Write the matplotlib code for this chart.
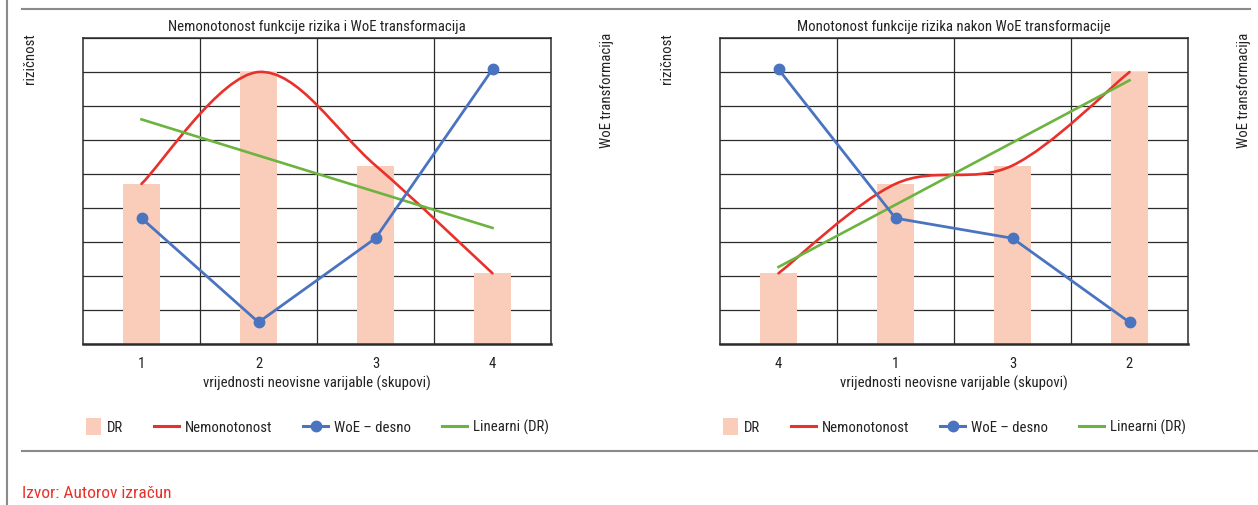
import numpy as np
import matplotlib
matplotlib.use('Agg')
import matplotlib.pyplot as plt
from matplotlib.path import Path
from matplotlib.patches import PathPatch, Patch, Rectangle
from matplotlib.lines import Line2D
from matplotlib.legend_handler import HandlerPatch

plt.rcParams['font.family'] = ['Roboto Condensed', 'Liberation Sans Narrow',
                               'Roboto', 'DejaVu Sans']

# groups of the independent variable, in the order they are shown
groups_raw = ['1', '2', '3', '4']
groups_woe = ['4', '1', '3', '2']
# default rate per group and WoE value per group (right axis)
dr = {'1': 4.71, '2': 8.0, '3': 5.25, '4': 2.08}
woe = {'1': 3.70, '2': 0.64, '3': 3.11, '4': 8.08}

titles = ['Nemonotonost funkcije rizika i WoE transformacija',
          'Monotonost funkcije rizika nakon WoE transformacije']
legend_labels = ['DR', 'Nemonotonost', 'WoE – desno', 'Linearni (DR)']

c_bar = '#F9CDB9'
c_red = '#E8312A'
c_blue = '#4A74C0'
c_green = '#6DB33F'
c_grid = '#2b2b2b'
c_text = '#222222'
fs = 10.6

W, H = 1258, 505
fig = plt.figure(figsize=(W / 100, H / 100), dpi=100)


def smooth_path(x, y):
    # Catmull-Rom style bezier, like a spreadsheet "smoothed line"
    p = np.column_stack([x, y]).astype(float)
    ext = np.vstack([p[0], p, p[-1]])
    verts = [p[0]]
    codes = [Path.MOVETO]
    for i in range(len(p) - 1):
        p0, p1, p2, p3 = ext[i], ext[i + 1], ext[i + 2], ext[i + 3]
        verts += [p1 + (p2 - p0) / 6, p2 - (p3 - p1) / 6, p2]
        codes += [Path.CURVE4] * 3
    return Path(verts, codes)


def square_patch(legend, orig_handle, xdescent, ydescent, width, height, fontsize):
    # small square swatch, pushed to the right end of the handle box
    side = fontsize * 1.1
    pw = side * 0.95
    return Rectangle((-xdescent + width - pw, -ydescent + (height - side) / 2), pw, side)


def panel(left_px, order, title):
    ax = fig.add_axes([left_px / W, 1 - 344 / H, 468 / W, 306 / H])
    x = np.arange(1, len(order) + 1)
    y = np.array([dr[g] for g in order])
    w = np.array([woe[g] for g in order])

    ax.bar(x, y, width=0.31, color=c_bar, zorder=2)
    ax.add_patch(PathPatch(smooth_path(x, y), fill=False, edgecolor=c_red,
                           lw=1.9, zorder=3, capstyle='round'))
    k, b = np.polyfit(x, y, 1)
    ax.plot(x[[0, -1]], k * x[[0, -1]] + b, color=c_green, lw=1.9, zorder=4)

    ax.set_xlim(0.5, len(order) + 0.5)
    ax.set_ylim(0, 9)
    ax.set_yticks(range(10))
    ax.set_yticklabels([])
    ax.set_xticks(x)
    ax.set_xticklabels(order, fontsize=fs, color=c_text)
    ax.set_xticks(x[:-1] + 0.5, minor=True)
    ax.tick_params(which='both', length=0)
    ax.tick_params(axis='x', pad=9)
    ax.grid(axis='y', which='major', color=c_grid, lw=0.9)
    ax.grid(axis='x', which='minor', color=c_grid, lw=0.9)
    ax.set_axisbelow(True)
    for s in ax.spines.values():
        s.set_color(c_grid)
        s.set_linewidth(1.1)
    ax.spines['bottom'].set_linewidth(1.8)
    ax.set_xlabel('vrijednosti neovisne varijable (skupovi)', fontsize=fs,
                  color=c_text, labelpad=4)
    ax.set_title(title, fontsize=fs, color=c_text, pad=5)

    ax2 = ax.twinx()
    ax2.plot(x, w, color=c_blue, lw=2, marker='o', ms=7.5, zorder=5)
    ax2.set_ylim(0, 9)
    ax2.set_yticks([])
    for s in ax2.spines.values():
        s.set_visible(False)

    handles = [Patch(facecolor=c_bar, edgecolor='none'),
               Line2D([], [], color=c_red, lw=2.2),
               Line2D([], [], color=c_blue, lw=2.2, marker='o', ms=7.5),
               Line2D([], [], color=c_green, lw=2.2)]
    ax.legend(handles, legend_labels, loc='center', bbox_to_anchor=(0.49, -0.272),
              ncol=4, frameon=False, fontsize=fs, handlelength=1.7,
              handleheight=1.1, handletextpad=0.4, columnspacing=2.1,
              labelcolor=c_text,
              handler_map={Patch: HandlerPatch(patch_func=square_patch)})

    fig.text((left_px - 53) / W, 1 - 33 / H, 'rizičnost', rotation=90,
             ha='center', va='top', fontsize=fs, color=c_text)
    fig.text((left_px + 524) / W, 1 - 33 / H, 'WoE transformacija', rotation=90,
             ha='center', va='top', fontsize=fs, color=c_text)


panel(83, groups_raw, titles[0])
panel(720, groups_woe, titles[1])

# page frame lines
frame = '#8a8a8a'
fig.add_artist(Line2D([7 / W, 7 / W], [0, 1], color=frame, lw=1.5))
fig.add_artist(Line2D([22 / W, 1250 / W], [1 - 9 / H, 1 - 9 / H], color=frame, lw=1.5))
fig.add_artist(Line2D([22 / W, 1], [1 - 451 / H, 1 - 451 / H], color=frame, lw=1.5))

fig.text(22 / W, 1 - 493 / H, 'Izvor: Autorov izračun', color=c_red,
         fontsize=12.5, ha='left', va='center')

fig.savefig('out.png', dpi=100)
